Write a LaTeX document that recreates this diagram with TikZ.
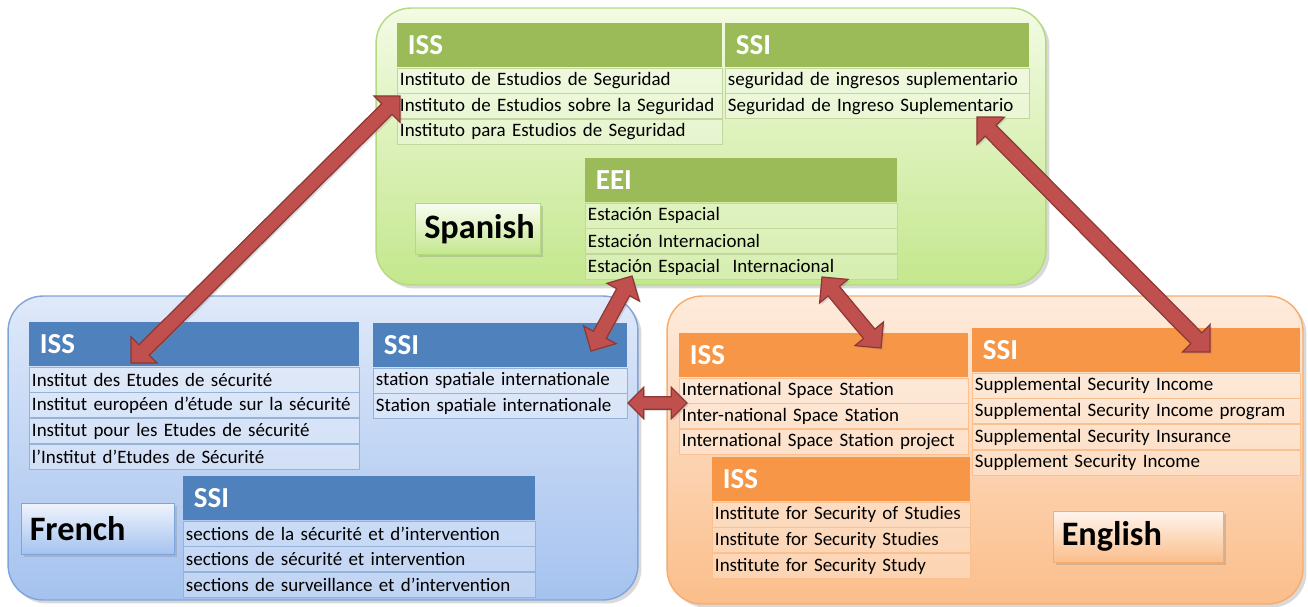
\documentclass[tikz,border=0pt]{standalone}
\usepackage{fontspec}
\setmainfont{Carlito}
\usetikzlibrary{positioning,calc,shadows}

\definecolor{eshdr}{HTML}{9BBB59}
\definecolor{esline}{HTML}{C3D69B}
\definecolor{estop}{HTML}{F3FBE4}
\definecolor{esbot}{HTML}{C4E78D}
\definecolor{esedge}{HTML}{B3DA7F}
\definecolor{frhdr}{HTML}{4F81BD}
\definecolor{frline}{HTML}{95B3D7}
\definecolor{frtop}{HTML}{DFE9F9}
\definecolor{frbot}{HTML}{A5C2EF}
\definecolor{fredge}{HTML}{7EA5DA}
\definecolor{enhdr}{HTML}{F79646}
\definecolor{enline}{HTML}{FAC090}
\definecolor{entop}{HTML}{FEEBDC}
\definecolor{enbot}{HTML}{FBBE8B}
\definecolor{enedge}{HTML}{F8AC6C}
\definecolor{arrfill}{HTML}{C0504D}
\definecolor{arrline}{HTML}{8C3836}

\tikzset{
  panel/.style={rounded corners=0.7cm, draw=#1edge, line width=0.8pt,
    top color=#1top, bottom color=#1bot,
    drop shadow={opacity=0.3, shadow xshift=2pt, shadow yshift=-2pt}},
  hdr/.style={fill=#1hdr, text=white, font=\fontsize{16.5}{19}\selectfont\bfseries,
    minimum height=0.88cm, inner xsep=6pt, inner ysep=0pt, align=left},
  cell/.style={draw=#1line, fill=white, fill opacity=0.3, text opacity=1,
    minimum height=0.5cm, inner xsep=1.5pt, inner ysep=0pt,
    font=\fontsize{10.8}{13}\selectfont, align=left},
  langbox/.style={draw=#1edge, top color=white!50!#1top, bottom color=#1bot,
    font=\fontsize{19.5}{22}\selectfont\bfseries, inner xsep=5pt, align=left,
    minimum height=1.02cm, drop shadow={opacity=0.3, shadow xshift=1.5pt, shadow yshift=-1.5pt}},
  twoway/.style={fill=arrfill, draw=arrline, line width=0.7pt, line join=miter,
    drop shadow={opacity=0.25, shadow xshift=1pt, shadow yshift=-1pt}}
}

% table: name, top left, width (px), title, colours, rows
\newcommand\termtable[6]{%
  \pgfmathsetlengthmacro\hdrw{#3*0.02cm-12pt}%
  \pgfmathsetlengthmacro\cellw{#3*0.02cm-3pt}%
  \node[hdr=#5, text width=\hdrw, anchor=north west] (#1h) at (#2) {#4};
  \foreach \t [count=\i, remember=\i as \j (initially h)] in {#6}
    \node[cell=#5, text width=\cellw, below=0pt of #1\j] (#1\i) {\mbox{\t}};
}

% block arrow with two heads
\newcommand\dblarrow[3][1]{%
  \draw[twoway] (#2)
    -- ($(#2)!#1*10.5pt!(#3)!#1*10.5pt!90:(#3)$)
    -- ($(#2)!#1*10.5pt!(#3)!#1*4.2pt!90:(#3)$)
    -- ($(#3)!#1*10.5pt!(#2)!#1*4.2pt!-90:(#2)$)
    -- ($(#3)!#1*10.5pt!(#2)!#1*10.5pt!-90:(#2)$)
    -- (#3)
    -- ($(#3)!#1*10.5pt!(#2)!#1*10.5pt!90:(#2)$)
    -- ($(#3)!#1*10.5pt!(#2)!#1*4.2pt!90:(#2)$)
    -- ($(#2)!#1*10.5pt!(#3)!#1*4.2pt!-90:(#3)$)
    -- ($(#2)!#1*10.5pt!(#3)!#1*10.5pt!-90:(#3)$)
    -- cycle;
}

\begin{document}
\begin{tikzpicture}[x=0.02cm, y=-0.02cm]
\useasboundingbox (0,0) rectangle (1308,606);

% panels
\node[panel=es, minimum width=13.4cm, minimum height=5.54cm] (spanish) at (711,146.5) {};
\node[panel=fr, minimum width=12.6cm, minimum height=6.08cm] (french) at (323,448) {};
\node[panel=en, minimum width=12.72cm, minimum height=6.16cm] (english) at (985,450) {};

% Spanish
\termtable{esISS}{397,23}{325}{ISS}{es}{Instituto de Estudios de Seguridad,
  Instituto de Estudios sobre la Seguridad, Instituto para Estudios de Seguridad}
\termtable{esSSI}{725,23}{304}{SSI}{es}{seguridad de ingresos suplementario,
  Seguridad de Ingreso Suplementario}
\termtable{esEEI}{585,158}{312}{EEI}{es}{Estación Espacial, Estación Internacional,
  Estación Espacial \ Internacional}
\node[langbox=es, text width=2.15cm] (eslab) at (478,229) {Spanish};

% French
\termtable{frISS}{29,322}{330}{ISS}{fr}{Institut des Etudes de sécurité,
  Institut européen d'étude sur la sécurité, Institut pour les Etudes de sécurité,
  l’Institut d’Etudes de Sécurité}
\termtable{frSSI}{373,323}{254}{SSI}{fr}{station spatiale internationale,
  Station spatiale internationale}
\termtable{frSEC}{183,476}{352}{SSI}{fr}{sections de la sécurité et d’intervention,
  sections de sécurité et intervention, sections de surveillance et d’intervention}
\node[langbox=fr, text width=2.71cm] (frlab) at (97.5,528.5) {French};

% English
\termtable{enISS}{679,333}{289}{ISS}{en}{International Space Station,
  Inter-national Space Station, International Space Station project}
\termtable{enIFS}{712,457}{258}{ISS}{en}{Institute for Security of Studies,
  Institute for Security Studies, Institute for Security Study}
\termtable{enSSI}{972,328}{328}{SSI}{en}{Supplemental Security Income,
  Supplemental Security Income program, Supplemental Security Insurance,
  Supplement Security Income}
\node[langbox=en, text width=3.05cm] (enlab) at (1138,536.5) {English};

% arrow ends
\coordinate (p1) at (400,96);
\coordinate (q1) at (131,363);
\coordinate (p2) at (632,276);
\coordinate (q2) at (591,351);
\coordinate (p3) at (822,277);
\coordinate (q3) at (881,348);
\coordinate (p4) at (977,117);
\coordinate (q4) at (1210,352);
\coordinate (p5) at (628,403);
\coordinate (q5) at (687,403);

% arrows
\dblarrow{p1}{q1}
\dblarrow{p2}{q2}
\dblarrow{p3}{q3}
\dblarrow[1.05]{p4}{q4}
\dblarrow[0.85]{p5}{q5}
\end{tikzpicture}
\end{document}
